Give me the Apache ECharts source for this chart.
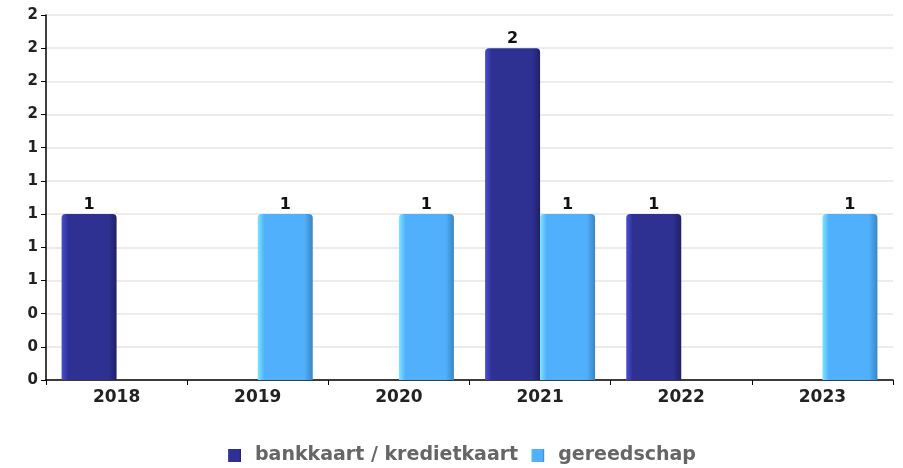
<!DOCTYPE html>
<html>
<head>
<meta charset="utf-8">
<script src="https://cdn.jsdelivr.net/npm/echarts@6/dist/echarts.min.js"></script>
<style>
html,body{margin:0;padding:0;background:#fff;}
#main{width:903px;height:468px;}
</style>
</head>
<body>
<div id="main"></div>
<script>
var years = ['2018', '2019', '2020', '2021', '2022', '2023'];
var bankkaart = [1, 0, 0, 2, 1, 0];
var gereedschap = [0, 1, 1, 1, 0, 1];

function grad(light, mid, dark){
	return new echarts.graphic.LinearGradient(0, 0, 1, 0, [
		{offset: 0, color: light},
		{offset: 0.12, color: mid},
		{offset: 0.85, color: mid},
		{offset: 1, color: dark}
	]);
}
function lbl(v){
	return v.value > 0 ? String(v.value) : '';
}

var el = echarts.init(document.getElementById('main'));
var elData = {
	animation: false,
	grid: {left: 46, right: 10, top: 15, bottom: 88},
	legend: {
		top: 446,
		left: 228,
		padding: 0,
		itemWidth: 13,
		itemHeight: 13,
		itemGap: 13,
		icon: 'rect',
		textStyle: {color: '#666', fontWeight: 'bold', fontSize: 19, fontFamily: 'DejaVu Sans', padding: [0, 0, 0, 9]},
		data: ['bankkaart / kredietkaart', 'gereedschap']
	},
	xAxis: {
		type: 'category',
		data: years,
		axisLine: {lineStyle: {color: '#000', width: 1.5}},
		axisTick: {show: true, lineStyle: {color: '#000'}, length: 5},
		axisLabel: {color: '#222', fontWeight: 'bold', fontSize: 17, fontFamily: 'DejaVu Sans', margin: 9}
	},
	yAxis: {
		type: 'value',
		min: 0,
		max: 2.2,
		interval: 0.2,
		axisLine: {show: true, lineStyle: {color: '#000', width: 1.5}},
		axisTick: {show: true, lineStyle: {color: '#000'}, length: 5},
		splitLine: {lineStyle: {color: '#e6e6e6', width: 1.5}},
		axisLabel: {
			color: '#222', fontWeight: 'bold', fontSize: 15, fontFamily: 'DejaVu Sans', margin: 8,
			formatter: function(v){ return Math.round(v); }
		}
	},
	series: [
		{
			name: 'bankkaart / kredietkaart',
			type: 'bar',
			data: bankkaart,
			barWidth: 55,
			barGap: '0%',
			itemStyle: {color: grad('#4a4fd0', '#2e3192', '#1f2166'), borderRadius: [4, 4, 0, 0]},
			label: {show: true, position: 'top', distance: 1, color: '#111', fontWeight: 'bold', fontSize: 16, fontFamily: 'DejaVu Sans', formatter: lbl}
		},
		{
			name: 'gereedschap',
			type: 'bar',
			data: gereedschap,
			barWidth: 55,
			itemStyle: {color: grad('#7fe4ff', '#50b0fb', '#3a85c4'), borderRadius: [4, 4, 0, 0]},
			label: {show: true, position: 'top', distance: 1, color: '#111', fontWeight: 'bold', fontSize: 16, fontFamily: 'DejaVu Sans', formatter: lbl}
		}
	]
};
el.setOption(elData);
</script>
</body>
</html>
